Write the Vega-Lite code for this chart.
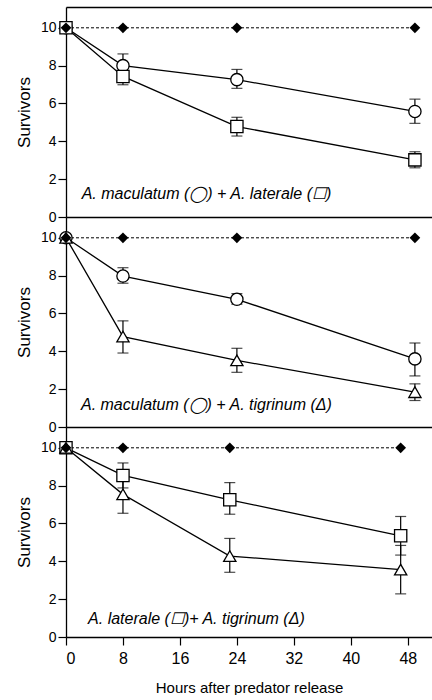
{
  "$schema": "https://vega.github.io/schema/vega-lite/v6.json",
  "padding": {"left": 5, "top": 7, "right": 0, "bottom": 0},
  "autosize": {"type": "pad"},
  "spacing": 0,
  "bounds": "flush",
  "config": {
    "view": {"stroke": null},
    "font": "Liberation Sans",
    "axis": {"domainColor": "black", "tickColor": "black", "labelColor": "black", "titleColor": "black", "grid": false, "domainWidth": 1.3, "tickWidth": 1.2, "labelFont": "Liberation Sans", "titleFont": "Liberation Sans"}
  },
  "datasets": {
    "pts": [
      {"panel": 1, "series": "control", "hours": 0, "mean": 10},
      {"panel": 1, "series": "control", "hours": 8, "mean": 10},
      {"panel": 1, "series": "control", "hours": 24, "mean": 10},
      {"panel": 1, "series": "control", "hours": 49, "mean": 10},
      {"panel": 1, "series": "maculatum", "hours": 0, "mean": 10},
      {"panel": 1, "series": "maculatum", "hours": 8, "mean": 8.0, "lo": 7.38, "hi": 8.62},
      {"panel": 1, "series": "maculatum", "hours": 24, "mean": 7.26, "lo": 6.8, "hi": 7.8},
      {"panel": 1, "series": "maculatum", "hours": 49, "mean": 5.58, "lo": 4.95, "hi": 6.23},
      {"panel": 1, "series": "laterale", "hours": 0, "mean": 10},
      {"panel": 1, "series": "laterale", "hours": 8, "mean": 7.43, "lo": 6.99, "hi": 7.87},
      {"panel": 1, "series": "laterale", "hours": 24, "mean": 4.78, "lo": 4.28, "hi": 5.27},
      {"panel": 1, "series": "laterale", "hours": 49, "mean": 3.02, "lo": 2.6, "hi": 3.45},
      {"panel": 2, "series": "control", "hours": 0, "mean": 10},
      {"panel": 2, "series": "control", "hours": 8, "mean": 10},
      {"panel": 2, "series": "control", "hours": 24, "mean": 10},
      {"panel": 2, "series": "control", "hours": 49, "mean": 10},
      {"panel": 2, "series": "maculatum", "hours": 0, "mean": 10},
      {"panel": 2, "series": "maculatum", "hours": 8, "mean": 7.98, "lo": 7.6, "hi": 8.42},
      {"panel": 2, "series": "maculatum", "hours": 24, "mean": 6.75, "lo": 6.49, "hi": 7.05},
      {"panel": 2, "series": "maculatum", "hours": 49, "mean": 3.6, "lo": 2.7, "hi": 4.44},
      {"panel": 2, "series": "tigrinum", "hours": 0, "mean": 10},
      {"panel": 2, "series": "tigrinum", "hours": 8, "mean": 4.78, "lo": 3.91, "hi": 5.61},
      {"panel": 2, "series": "tigrinum", "hours": 24, "mean": 3.52, "lo": 2.89, "hi": 4.16},
      {"panel": 2, "series": "tigrinum", "hours": 49, "mean": 1.84, "lo": 1.4, "hi": 2.28},
      {"panel": 3, "series": "control", "hours": 0, "mean": 10},
      {"panel": 3, "series": "control", "hours": 8, "mean": 10},
      {"panel": 3, "series": "control", "hours": 23, "mean": 10},
      {"panel": 3, "series": "control", "hours": 47, "mean": 10},
      {"panel": 3, "series": "laterale", "hours": 0, "mean": 10},
      {"panel": 3, "series": "laterale", "hours": 8, "mean": 8.54, "lo": 7.88, "hi": 9.2},
      {"panel": 3, "series": "laterale", "hours": 23, "mean": 7.25, "lo": 6.49, "hi": 8.16},
      {"panel": 3, "series": "laterale", "hours": 47, "mean": 5.35, "lo": 4.33, "hi": 6.37},
      {"panel": 3, "series": "tigrinum", "hours": 0, "mean": 10},
      {"panel": 3, "series": "tigrinum", "hours": 8, "mean": 7.54, "lo": 6.54, "hi": 8.54},
      {"panel": 3, "series": "tigrinum", "hours": 23, "mean": 4.28, "lo": 3.42, "hi": 5.21},
      {"panel": 3, "series": "tigrinum", "hours": 47, "mean": 3.56, "lo": 2.28, "hi": 4.84}
    ],
    "labels": [
      {"panel": 1, "hours": 2.2, "y": 1.24, "text": "A. maculatum (◯) + A. laterale (☐)"},
      {"panel": 2, "hours": 2.1, "y": 1.14, "text": "A. maculatum (◯) + A. tigrinum (Δ)"},
      {"panel": 3, "hours": 3.1, "y": 0.96, "text": "A. laterale (☐)+ A. tigrinum (Δ)"}
    ]
  },
  "vconcat": [
    {
      "width": 366, "height": 210,
      "data": {"name": "pts"},
      "transform": [{"filter": "datum.panel == 1"}],
      "resolve": {"axis": {"x": "independent", "y": "independent"}},
      "layer": [
        {"transform": [{"filter": "datum.series == 'control'"}],
         "mark": {"type": "line", "color": "black", "strokeWidth": 1, "strokeDash": [3, 2]},
         "encoding": {"x": {"field": "hours", "type": "quantitative", "scale": {"domain": [0, 51.4], "nice": false}, "axis": null},
                      "y": {"field": "mean", "type": "quantitative", "scale": {"domain": [0, 11.1], "nice": false}, "title": "Survivors",
                            "axis": {"values": [0, 2, 4, 6, 8, 10], "tickSize": 8, "labelFontSize": 14, "labelPadding": 2, "titleFontSize": 17, "titleFontWeight": "normal", "minExtent": 61, "maxExtent": 61, "titleX": -33}}}},
        {"transform": [{"filter": "datum.series != 'control'"}],
         "mark": {"type": "line", "color": "black", "strokeWidth": 1.3},
         "encoding": {"x": {"field": "hours", "type": "quantitative", "scale": {"domain": [0, 51.4], "nice": false}, "axis": {"orient": "bottom", "labels": false, "ticks": false, "title": null}},
                      "y": {"field": "mean", "type": "quantitative", "axis": null},
                      "detail": {"field": "series"}}},
        {"transform": [{"filter": "isValid(datum.lo)"}],
         "mark": {"type": "rule", "color": "black", "strokeWidth": 1.2},
         "encoding": {"x": {"field": "hours", "type": "quantitative", "axis": null},
                      "y": {"field": "lo", "type": "quantitative", "axis": null}, "y2": {"field": "hi"}}},
        {"transform": [{"filter": "isValid(datum.lo)"}],
         "mark": {"type": "tick", "orient": "horizontal", "color": "black", "thickness": 1.2},
         "encoding": {"x": {"field": "hours", "type": "quantitative", "axis": null},
                      "y": {"field": "lo", "type": "quantitative", "axis": null}, "size": {"value": 11}}},
        {"transform": [{"filter": "isValid(datum.lo)"}],
         "mark": {"type": "tick", "orient": "horizontal", "color": "black", "thickness": 1.2},
         "encoding": {"x": {"field": "hours", "type": "quantitative", "axis": null},
                      "y": {"field": "hi", "type": "quantitative", "axis": null}, "size": {"value": 11}}},
        {"transform": [{"filter": "datum.series != 'control'"}],
         "mark": {"type": "point", "filled": true, "fill": "white", "stroke": "black", "strokeWidth": 1.3, "size": 150, "opacity": 1},
         "encoding": {"x": {"field": "hours", "type": "quantitative", "axis": null},
                      "y": {"field": "mean", "type": "quantitative", "axis": null},
                      "shape": {"field": "series", "scale": {"domain": ["maculatum", "laterale", "tigrinum"], "range": ["circle", "square", "triangle-up"]}, "legend": null}}},
        {"transform": [{"filter": "datum.series == 'control'"}],
         "mark": {"type": "point", "filled": true, "color": "black", "shape": "diamond", "size": 115, "opacity": 1},
         "encoding": {"x": {"field": "hours", "type": "quantitative", "axis": null},
                      "y": {"field": "mean", "type": "quantitative", "axis": null}}},
        {"data": {"name": "labels"},
         "transform": [{"filter": "datum.panel == 1"}],
         "mark": {"type": "text", "align": "left", "baseline": "middle", "fontStyle": "italic", "fontSize": 16, "font": "Liberation Sans", "color": "black"},
         "encoding": {"x": {"field": "hours", "type": "quantitative", "axis": {"orient": "top", "labels": false, "ticks": false, "title": null}},
                      "y": {"field": "y", "type": "quantitative", "axis": null},
                      "text": {"field": "text"}}}
      ]
    },
    {
      "width": 366, "height": 210,
      "data": {"name": "pts"},
      "transform": [{"filter": "datum.panel == 2"}],
      "resolve": {"axis": {"x": "independent", "y": "independent"}},
      "layer": [
        {"transform": [{"filter": "datum.series == 'control'"}],
         "mark": {"type": "line", "color": "black", "strokeWidth": 1, "strokeDash": [3, 2]},
         "encoding": {"x": {"field": "hours", "type": "quantitative", "scale": {"domain": [0, 51.4], "nice": false}, "axis": null},
                      "y": {"field": "mean", "type": "quantitative", "scale": {"domain": [0, 11.1], "nice": false}, "title": "Survivors",
                            "axis": {"values": [0, 2, 4, 6, 8, 10], "tickSize": 8, "labelFontSize": 14, "labelPadding": 2, "titleFontSize": 17, "titleFontWeight": "normal", "minExtent": 61, "maxExtent": 61, "titleX": -33}}}},
        {"transform": [{"filter": "datum.series != 'control'"}],
         "mark": {"type": "line", "color": "black", "strokeWidth": 1.3},
         "encoding": {"x": {"field": "hours", "type": "quantitative", "scale": {"domain": [0, 51.4], "nice": false}, "axis": {"orient": "bottom", "labels": false, "ticks": false, "title": null}},
                      "y": {"field": "mean", "type": "quantitative", "axis": null},
                      "detail": {"field": "series"}}},
        {"transform": [{"filter": "isValid(datum.lo)"}],
         "mark": {"type": "rule", "color": "black", "strokeWidth": 1.2},
         "encoding": {"x": {"field": "hours", "type": "quantitative", "axis": null},
                      "y": {"field": "lo", "type": "quantitative", "axis": null}, "y2": {"field": "hi"}}},
        {"transform": [{"filter": "isValid(datum.lo)"}],
         "mark": {"type": "tick", "orient": "horizontal", "color": "black", "thickness": 1.2},
         "encoding": {"x": {"field": "hours", "type": "quantitative", "axis": null},
                      "y": {"field": "lo", "type": "quantitative", "axis": null}, "size": {"value": 11}}},
        {"transform": [{"filter": "isValid(datum.lo)"}],
         "mark": {"type": "tick", "orient": "horizontal", "color": "black", "thickness": 1.2},
         "encoding": {"x": {"field": "hours", "type": "quantitative", "axis": null},
                      "y": {"field": "hi", "type": "quantitative", "axis": null}, "size": {"value": 11}}},
        {"transform": [{"filter": "datum.series != 'control'"}],
         "mark": {"type": "point", "filled": true, "fill": "white", "stroke": "black", "strokeWidth": 1.3, "size": 150, "opacity": 1},
         "encoding": {"x": {"field": "hours", "type": "quantitative", "axis": null},
                      "y": {"field": "mean", "type": "quantitative", "axis": null},
                      "shape": {"field": "series", "scale": {"domain": ["maculatum", "laterale", "tigrinum"], "range": ["circle", "square", "triangle-up"]}, "legend": null}}},
        {"transform": [{"filter": "datum.series == 'control'"}],
         "mark": {"type": "point", "filled": true, "color": "black", "shape": "diamond", "size": 115, "opacity": 1},
         "encoding": {"x": {"field": "hours", "type": "quantitative", "axis": null},
                      "y": {"field": "mean", "type": "quantitative", "axis": null}}},
        {"data": {"name": "labels"},
         "transform": [{"filter": "datum.panel == 2"}],
         "mark": {"type": "text", "align": "left", "baseline": "middle", "fontStyle": "italic", "fontSize": 16, "font": "Liberation Sans", "color": "black"},
         "encoding": {"x": {"field": "hours", "type": "quantitative", "axis": null},
                      "y": {"field": "y", "type": "quantitative", "axis": null},
                      "text": {"field": "text"}}}
      ]
    },
    {
      "width": 366, "height": 210,
      "data": {"name": "pts"},
      "transform": [{"filter": "datum.panel == 3"}],
      "resolve": {"axis": {"x": "independent", "y": "independent"}},
      "layer": [
        {"transform": [{"filter": "datum.series == 'control'"}],
         "mark": {"type": "line", "color": "black", "strokeWidth": 1, "strokeDash": [3, 2]},
         "encoding": {"x": {"field": "hours", "type": "quantitative", "scale": {"domain": [0, 51.4], "nice": false}, "axis": null},
                      "y": {"field": "mean", "type": "quantitative", "scale": {"domain": [0, 11.1], "nice": false}, "title": "Survivors",
                            "axis": {"values": [0, 2, 4, 6, 8, 10], "tickSize": 8, "labelFontSize": 14, "labelPadding": 2, "titleFontSize": 17, "titleFontWeight": "normal", "minExtent": 61, "maxExtent": 61, "titleX": -33}}}},
        {"transform": [{"filter": "datum.series != 'control'"}],
         "mark": {"type": "line", "color": "black", "strokeWidth": 1.3},
         "encoding": {"x": {"field": "hours", "type": "quantitative", "scale": {"domain": [0, 51.4], "nice": false}, "title": "Hours after predator release",
                            "axis": {"orient": "bottom", "values": [0, 8, 16, 24, 32, 40, 48], "tickSize": 8, "labelFontSize": 16, "labelPadding": 5, "titleFontSize": 15, "titleFontWeight": "normal", "titlePadding": 14}},
                      "y": {"field": "mean", "type": "quantitative", "axis": null},
                      "detail": {"field": "series"}}},
        {"transform": [{"filter": "isValid(datum.lo)"}],
         "mark": {"type": "rule", "color": "black", "strokeWidth": 1.2},
         "encoding": {"x": {"field": "hours", "type": "quantitative", "axis": null},
                      "y": {"field": "lo", "type": "quantitative", "axis": null}, "y2": {"field": "hi"}}},
        {"transform": [{"filter": "isValid(datum.lo)"}],
         "mark": {"type": "tick", "orient": "horizontal", "color": "black", "thickness": 1.2},
         "encoding": {"x": {"field": "hours", "type": "quantitative", "axis": null},
                      "y": {"field": "lo", "type": "quantitative", "axis": null}, "size": {"value": 11}}},
        {"transform": [{"filter": "isValid(datum.lo)"}],
         "mark": {"type": "tick", "orient": "horizontal", "color": "black", "thickness": 1.2},
         "encoding": {"x": {"field": "hours", "type": "quantitative", "axis": null},
                      "y": {"field": "hi", "type": "quantitative", "axis": null}, "size": {"value": 11}}},
        {"transform": [{"filter": "datum.series != 'control'"}],
         "mark": {"type": "point", "filled": true, "fill": "white", "stroke": "black", "strokeWidth": 1.3, "size": 150, "opacity": 1},
         "encoding": {"x": {"field": "hours", "type": "quantitative", "axis": null},
                      "y": {"field": "mean", "type": "quantitative", "axis": null},
                      "shape": {"field": "series", "scale": {"domain": ["maculatum", "laterale", "tigrinum"], "range": ["circle", "square", "triangle-up"]}, "legend": null}}},
        {"transform": [{"filter": "datum.series == 'control'"}],
         "mark": {"type": "point", "filled": true, "color": "black", "shape": "diamond", "size": 115, "opacity": 1},
         "encoding": {"x": {"field": "hours", "type": "quantitative", "axis": null},
                      "y": {"field": "mean", "type": "quantitative", "axis": null}}},
        {"data": {"name": "labels"},
         "transform": [{"filter": "datum.panel == 3"}],
         "mark": {"type": "text", "align": "left", "baseline": "middle", "fontStyle": "italic", "fontSize": 16, "font": "Liberation Sans", "color": "black"},
         "encoding": {"x": {"field": "hours", "type": "quantitative", "axis": null},
                      "y": {"field": "y", "type": "quantitative", "axis": null},
                      "text": {"field": "text"}}}
      ]
    }
  ]
}
